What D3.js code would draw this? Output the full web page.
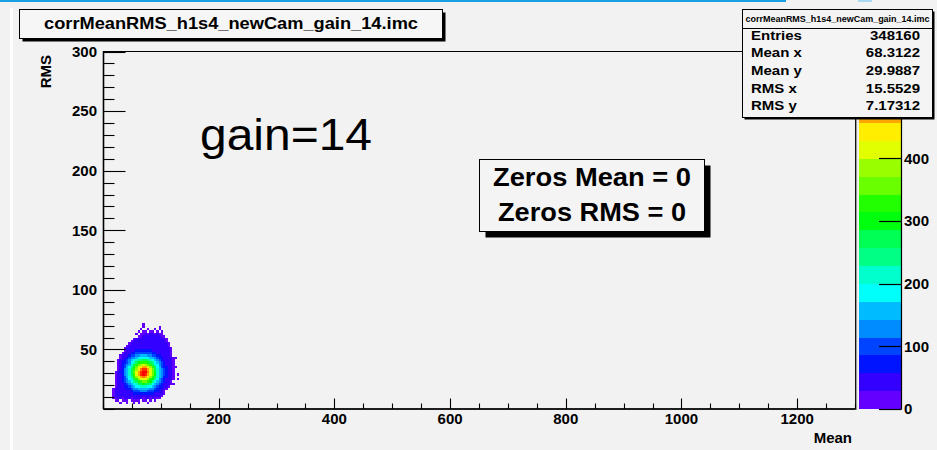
<!DOCTYPE html>
<html><head><meta charset="utf-8">
<script src="https://cdn.jsdelivr.net/npm/d3@7"></script>
<style>
body{margin:0;background:#f2f2f2;}
svg{display:block;font-family:"Liberation Sans",Arial,Helvetica,sans-serif;}
</style>
</head><body>
<svg id="chart" width="937" height="450"></svg>
<script>
// ---------------- data ----------------
const histTitle = "corrMeanRMS_h1s4_newCam_gain_14.imc";
const xLabel = "Mean";
const yLabel = "RMS";
const annotation = "gain=14";
const zerosLines = ["Zeros Mean = 0", "Zeros RMS = 0"];
const xDomain = [0, 1300];
const yDomain = [0, 300];
const zMax = 570;
const xTicksMajor = [200, 400, 600, 800, 1000, 1200];
const yTicksMajor = [50, 100, 150, 200, 250, 300];
const zTicks = [0, 100, 200, 300, 400];
const statsLabels = ["Entries", "Mean x", "Mean y", "RMS x", "RMS y"];
const statsValues = ["348160", "68.3122", "29.9887", "15.5529", "7.17312"];
const palette = ["#6300ff","#3300ff","#0014ff","#0044ff","#008bff","#00bbff","#00fffb","#00ffcc","#00ff85","#00ff55",
                 "#00ff0e","#22ff00","#69ff00","#99ff00","#e1ff00","#ffee00","#ffa700","#ff7700","#ff3000","#ff0000"];
// 2D histogram, bins of 4 (Mean) x 2 (RMS); first column starts at Mean=12, first row covers RMS 74..76
const binX0 = 12, binW = 4, binTop = 76, binH = 2;
const levelCodes = "0123456789abcdefghij";   // '.' = empty bin, code = contour band of the bin content
const blobRows = [
"",
"",
"..............0",
"..............0......0",
".............0..0..0.0",
"............0.00.00.0.0",
"...........0.0010110100",
"............001111111100",
"..........0" + "1111111111111" + "0",
".........0" + "11111111111111" + "0",
"........0" + "1111111111111111" + "0",
".......0" + "11111111111111111" + "0",
"......0" + "1111111111111111111" + "0",
"......0" + "1111" + "2222222" + "11111111" + "0",
".....0" + "111" + "22" + "3333333" + "22" + "111111" + "0",
"....0" + "111233445554433221111" + "0",
"....0" + "1123445666665543221111" + "00",
"...0" + "11234567889987654321111" + "0",
"...0" + "12234679abbba9865432111" + "0",
"...0" + "1234579bcdedcb976432111" + "0",
"...0" + "123568acefggedb96532211" + "00",
"...0" + "124579bdfhiigec97543211" + "0",
"..0" + "1224579cegijjheca7543211" + "0",
"..0" + "1124579begijigeca7543211" + "0.0",
"..0" + "1123568bdeghgfdb97542211" + "0",
"..0" + "11234679bdeeedba86432111" + "0.0",
"..0" + "112345689bbccba86543211" + "0",
"..0" + "11123456799a99865432111" + "00",
"..0" + "1112234566777665432211" + "0",
".0" + "1111122344555554432211" + "0",
".0" + "1111111" + "2" + "333" + "444" + "333" + "22" + "11" + "0",
".0" + "11111111" + "222222222" + "1111" + "0",
".0" + "11111111111111111111" + "0",
".001101110111101101000",
"..00.000.0000.00.0.0",
"....0..0..0.0...0"
];

// ---------------- layout ----------------
const svg = d3.select("#chart");
const W = 937, H = 450;
const plot = {left: 103.5, right: 855.5, top: 51.5, bottom: 409};
const pal = {left: 859, right: 901};

const xs = d3.scaleLinear().domain(xDomain).range([plot.left - 0.5, plot.right - 0.5]);
const ys = d3.scaleLinear().domain(yDomain).range([plot.bottom, plot.top]);
const zs = d3.scaleLinear().domain([0, zMax]).range([plot.bottom, plot.top]);
const colour = d3.scaleQuantize().domain([0, zMax]).range(palette);

svg.append("rect").attr("width", W).attr("height", H).attr("fill", "#f2f2f2");
// slide decorations
svg.append("rect").attr("x", 0).attr("y", 0).attr("width", 786).attr("height", 2).attr("fill", "#1a9fe3");
svg.append("rect").attr("x", 858).attr("y", 0).attr("width", 14).attr("height", 2).attr("fill", "#a9d9f2");
svg.append("rect").attr("x", 10).attr("y", 8).attr("width", 3).attr("height", H - 8).attr("fill", "#ffffff");

// histogram cells
const cells = [];
blobRows.forEach((row, r) => {
  for (let c = 0; c < row.length; c++) {
    const ch = row[c];
    if (ch === ".") continue;
    const lvl = levelCodes.indexOf(ch);
    const x0 = binX0 + c * binW;
    const yT = binTop - r * binH;
    cells.push({x0: x0, x1: x0 + binW, y1: yT, y0: yT - binH, count: (lvl + 0.5) * zMax / 20});
  }
});
svg.append("g").attr("shape-rendering", "crispEdges")
  .selectAll("rect").data(cells).join("rect")
  .attr("x", d => xs(d.x0)).attr("y", d => ys(d.y1))
  .attr("width", d => xs(d.x1) - xs(d.x0)).attr("height", d => ys(d.y0) - ys(d.y1))
  .attr("fill", d => colour(d.count));

// frame
svg.append("rect").attr("x", plot.left).attr("y", plot.top)
  .attr("width", plot.right - plot.left).attr("height", plot.bottom - plot.top)
  .attr("fill", "none").attr("stroke", "#000").attr("stroke-width", 1);
svg.append("line").attr("x1", plot.right + 1).attr("x2", plot.right + 1).attr("y1", plot.top).attr("y2", plot.bottom + 1)
  .attr("stroke", "#9a9a9a").attr("stroke-width", 1.2);

// y axis ticks (inside)
const yMinor = d3.range(0, 301, 10);
const yAx = svg.append("g").attr("stroke", "#000").attr("stroke-width", 1.1);
yMinor.forEach(v => {
  const major = yTicksMajor.includes(v);
  yAx.append("line").attr("x1", plot.left).attr("x2", plot.left + (major ? 22 : 11))
    .attr("y1", Math.round(ys(v)) + 0.5).attr("y2", Math.round(ys(v)) + 0.5);
});
svg.append("line").attr("x1", plot.left).attr("x2", plot.left).attr("y1", plot.top).attr("y2", plot.bottom)
  .attr("stroke", "#000").attr("stroke-width", 1.6);
// x axis ticks (inside)
const xMinor = d3.range(0, 1301, 50);
const xAx = svg.append("g").attr("stroke", "#000").attr("stroke-width", 1.1);
xMinor.forEach(v => {
  const major = xTicksMajor.includes(v);
  xAx.append("line").attr("y1", plot.bottom).attr("y2", plot.bottom - (major ? 10.5 : 5.5))
    .attr("x1", Math.round(xs(v)) + 0.5).attr("x2", Math.round(xs(v)) + 0.5);
});
svg.append("line").attr("x1", plot.left).attr("x2", plot.right).attr("y1", plot.bottom).attr("y2", plot.bottom)
  .attr("stroke", "#000").attr("stroke-width", 1.6);

const lab = {"font-weight": "bold", "font-size": "15px", fill: "#000"};
function style(sel, o) { Object.entries(o).forEach(([k, v]) => sel.attr(k, v)); return sel; }

yTicksMajor.forEach(v => {
  style(svg.append("text"), lab).attr("x", 97).attr("y", ys(v)).attr("dy", "0.36em")
    .attr("text-anchor", "end").text(v);
});
xTicksMajor.forEach(v => {
  style(svg.append("text"), lab).attr("x", xs(v)).attr("y", 424)
    .attr("text-anchor", "middle").text(v);
});
style(svg.append("text"), lab).attr("x", 852).attr("y", 443).attr("text-anchor", "end").text(xLabel);
style(svg.append("text"), lab).attr("transform", "translate(51,55) rotate(-90)")
  .attr("text-anchor", "end").text(yLabel);

// palette
const bands = palette.map((col, i) => ({col, lo: i * zMax / 20, hi: (i + 1) * zMax / 20}));
svg.append("g").attr("shape-rendering", "crispEdges").selectAll("rect").data(bands).join("rect")
  .attr("x", pal.left).attr("width", pal.right - pal.left)
  .attr("y", d => zs(d.hi)).attr("height", d => zs(d.lo) - zs(d.hi)).attr("fill", d => d.col);
svg.append("line").attr("x1", pal.right + 0.5).attr("x2", pal.right + 0.5).attr("y1", plot.top).attr("y2", plot.bottom + 0.5)
  .attr("stroke", "#000").attr("stroke-width", 1.2);
zTicks.forEach(v => {
  svg.append("line").attr("x1", pal.right - 22).attr("x2", pal.right + 0.5)
    .attr("y1", Math.round(zs(v)) + 0.5).attr("y2", Math.round(zs(v)) + 0.5)
    .attr("stroke", "#000").attr("stroke-width", 1.2);
  style(svg.append("text"), lab).attr("x", 904).attr("y", zs(v)).attr("dy", "0.36em").text(v);
});

// title box
svg.append("rect").attr("x", 22.5).attr("y", 12.5).attr("width", 423).attr("height", 29).attr("fill", "#000");
svg.append("rect").attr("x", 19.5).attr("y", 9.5).attr("width", 423).attr("height", 29)
  .attr("fill", "#f6f6f6").attr("stroke", "#000").attr("stroke-width", 1);
svg.append("text").attr("x", 231).attr("y", 29).attr("text-anchor", "middle")
  .attr("font-weight", "bold").attr("font-size", "16.5px")
  .attr("textLength", 374).attr("lengthAdjust", "spacingAndGlyphs").text(histTitle);

// annotation
svg.append("text").attr("x", 200).attr("y", 150).attr("font-size", "44px")
  .attr("textLength", 172).attr("lengthAdjust", "spacingAndGlyphs").text(annotation);

// zeros box
svg.append("rect").attr("x", 485.5).attr("y", 165.5).attr("width", 225).attr("height", 72).attr("fill", "#000");
svg.append("rect").attr("x", 479.5).attr("y", 159.5).attr("width", 225).attr("height", 72)
  .attr("fill", "#f4f4f4").attr("stroke", "#000").attr("stroke-width", 1);
const zl = [198, 188];
zerosLines.forEach((t, i) => {
  svg.append("text").attr("x", 592).attr("y", 186 + i * 35).attr("text-anchor", "middle")
    .attr("font-weight", "bold").attr("font-size", "25px")
    .attr("textLength", zl[i]).attr("lengthAdjust", "spacingAndGlyphs").text(t);
});

// stats box
svg.append("rect").attr("x", 744.5).attr("y", 11.5).attr("width", 190).attr("height", 108).attr("fill", "#000");
svg.append("rect").attr("x", 742.5).attr("y", 9.5).attr("width", 190).attr("height", 108)
  .attr("fill", "#f4f4f4").attr("stroke", "#000").attr("stroke-width", 1);
svg.append("line").attr("x1", 742.5).attr("x2", 932.5).attr("y1", 28.5).attr("y2", 28.5).attr("stroke", "#000");
svg.append("text").attr("x", 837.5).attr("y", 22).attr("text-anchor", "middle")
  .attr("font-size", "9px").attr("font-weight", "bold")
  .attr("textLength", 184).attr("lengthAdjust", "spacingAndGlyphs").text(histTitle);
const rowY = [40, 57, 74.5, 92.5, 109.5];
statsLabels.forEach((t, i) => {
  svg.append("text").attr("transform", `translate(751,${rowY[i]}) scale(1.2,1)`)
    .attr("font-weight", "bold").attr("font-size", "12.5px").text(t);
  svg.append("text").attr("transform", `translate(920,${rowY[i]}) scale(1.2,1)`)
    .attr("text-anchor", "end").attr("font-weight", "bold").attr("font-size", "12.5px").text(statsValues[i]);
});
</script>
</body></html>
